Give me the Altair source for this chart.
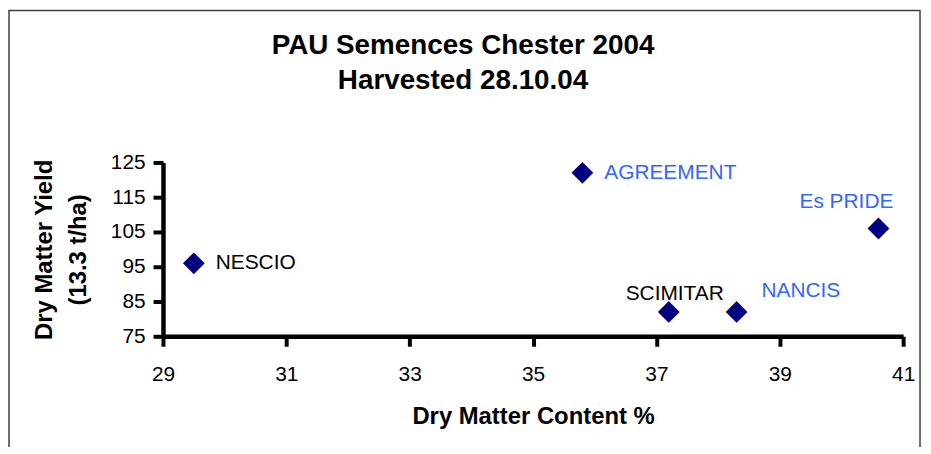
import altair as alt
import pandas as pd

varieties = ["NESCIO", "AGREEMENT", "SCIMITAR", "NANCIS", "Es PRIDE"]
dm_content = [29.5, 35.8, 37.2, 38.3, 40.6]
dm_yield = [96, 122, 82, 82, 106]
x_ticks = [29, 31, 33, 35, 37, 39, 41]
y_ticks = [75, 85, 95, 105, 115, 125]
title_lines = ["PAU Semences Chester 2004", "Harvested 28.10.04"]

df = pd.DataFrame({"variety": varieties, "dmc": dm_content, "dmy": dm_yield})

FONT = "Liberation Sans"
W, H = 745, 175

x = alt.X("dmc:Q", title="Dry Matter Content %",
          scale=alt.Scale(domain=[29, 41], nice=False, zero=False),
          axis=alt.Axis(values=x_ticks, format="d", grid=False, domainColor="black",
                        domainWidth=4.5, tickColor="black", tickWidth=4, tickSize=10,
                        labelPadding=18, labelFontSize=21, labelFont=FONT,
                        labelColor="black", labelOverlap=False, labelFlush=False,
                        titleFont=FONT, titleFontSize=24, titleFontWeight="bold",
                        titleColor="black", titlePadding=20))
y = alt.Y("dmy:Q", title=["Dry Matter Yield", "(13.3 t/ha)"],
          scale=alt.Scale(domain=[75, 125], nice=False, zero=False),
          axis=alt.Axis(values=y_ticks, format="d", grid=False, domainColor="black",
                        domainWidth=4.5, tickColor="black", tickWidth=4, tickSize=10,
                        labelPadding=8, labelFontSize=21, labelFont=FONT,
                        labelColor="black", labelOverlap=False, labelFlush=False,
                        titleFont=FONT, titleFontSize=24, titleFontWeight="bold",
                        titleColor="black", titlePadding=20, titleLineHeight=34))

base = alt.Chart(df)

frame = alt.Chart(pd.DataFrame({"k": [0]})).mark_rect(
    fill=None, stroke="#404040", strokeWidth=1.5, clip=False).encode(
    x=alt.value(-155), x2=alt.value(W + 17), y=alt.value(-153), y2=alt.value(H + 200))

tdf = pd.DataFrame({"line": title_lines, "row": [0, 1]})
title1 = alt.Chart(tdf).transform_filter(alt.datum.row == 0).mark_text(
    font=FONT, fontSize=28, fontWeight="bold", color="black",
    align="center", baseline="middle").encode(text="line:N", x=alt.value(302), y=alt.value(-117))
title2 = alt.Chart(tdf).transform_filter(alt.datum.row == 1).mark_text(
    font=FONT, fontSize=28, fontWeight="bold", color="black",
    align="center", baseline="middle").encode(text="line:N", x=alt.value(302), y=alt.value(-82))

points = base.mark_point(shape="diamond", filled=True, size=480, color="#000080", opacity=1).encode(
    x=x, y=y)

BLUE = "#3366FF"
label_specs = [
    ("NESCIO", "left", 22, 0, "black"),
    ("AGREEMENT", "left", 22, 0, BLUE),
    ("SCIMITAR", "center", 6, -18, "black"),
    ("NANCIS", "left", 25, -21, BLUE),
    ("Es PRIDE", "right", 15, -27, BLUE),
]
labels = []
for name, align, dx, dy, col in label_specs:
    labels.append(
        base.transform_filter(alt.datum.variety == name)
        .mark_text(align=align, baseline="middle", dx=dx, dy=dy, fontSize=21,
                   font=FONT, color=col)
        .encode(x=x, y=y, text="variety:N")
    )

chart = alt.layer(frame, title1, title2, points, *labels).properties(
    width=W, height=H,
    autosize=alt.AutoSizeParams(type="none"),
    padding={"left": 156, "top": 154, "right": 20, "bottom": 110},
).configure(background="white").configure_view(strokeWidth=0).configure_axis(
    domainWidth=4.5, tickWidth=4, domainColor="black", tickColor="black",
    labelFlush=False)

chart.save("out.html", embed_options={"renderer": "svg", "actions": False})
